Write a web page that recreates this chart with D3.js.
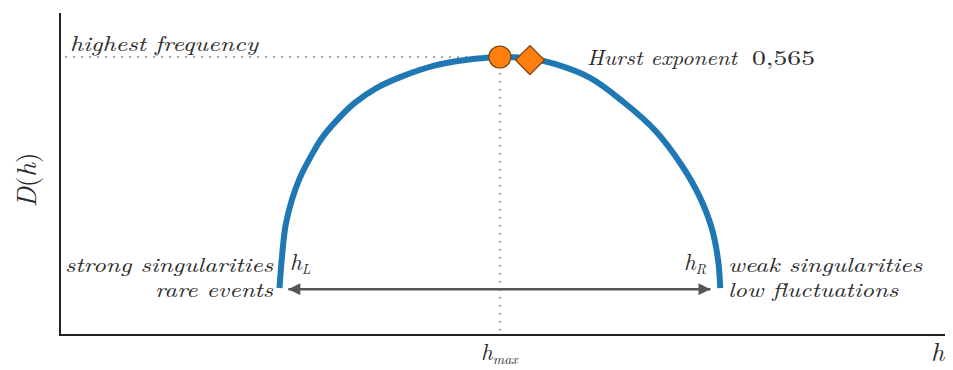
<!DOCTYPE html>
<html>
<head>
<meta charset="utf-8">
<script src="https://cdn.jsdelivr.net/npm/d3@7"></script>
<style>
  html, body { margin: 0; padding: 0; background: #fff; }
  svg { display: block; }
</style>
</head>
<body>
<svg id="chart" width="953" height="370"></svg>
<script>
// Multifractal spectrum D(h)
const hValues = [0.248, 0.251, 0.255, 0.262, 0.271, 0.283, 0.296, 0.313, 0.333, 0.358, 0.388, 0.422, 0.458, 0.497,
                 0.531, 0.559, 0.599, 0.636, 0.673, 0.703, 0.723, 0.737, 0.744, 0.746];
const dValues = [0.169, 0.288, 0.396, 0.486, 0.565, 0.640, 0.709, 0.773, 0.835, 0.889, 0.932, 0.968, 0.989, 1.000,
                 0.995, 0.975, 0.925, 0.840, 0.734, 0.608, 0.496, 0.378, 0.259, 0.169];

const hMax = 0.497;          // peak of the spectrum
const dMax = 1.0;
const hurstPoint = [0.531, 0.989];
const hurstLabel = '0,565';
const hLeft = 0.258;         // arrow ends
const hRight = 0.735;
const arrowD = 0.165;

const FONT = '"Latin Modern Roman", "CMU Serif", "Liberation Serif", serif';
const INK = '#2b2b2b';

const svg = d3.select('#chart');

// Scales
const x = d3.scaleLinear().domain([0, 1]).range([60, 945]);
const y = d3.scaleLinear().domain([0, 1]).range([335, 57]);

// Axes (plain lines, no ticks)
svg.append('line')
  .attr('x1', x(0)).attr('x2', x(0))
  .attr('y1', y(1.158)).attr('y2', y(0) + 1)
  .attr('stroke', '#222').attr('stroke-width', 2);
svg.append('line')
  .attr('x1', x(0)).attr('x2', x(1))
  .attr('y1', y(0)).attr('y2', y(0))
  .attr('stroke', '#222').attr('stroke-width', 2);

// Dotted guides to the peak
svg.append('line')
  .attr('x1', x(0.006)).attr('x2', x(hMax))
  .attr('y1', y(dMax)).attr('y2', y(dMax))
  .attr('stroke', '#8a8a8a').attr('stroke-width', 2)
  .attr('stroke-dasharray', '1.5,6.5');
svg.append('line')
  .attr('x1', x(hMax)).attr('x2', x(hMax))
  .attr('y1', y(dMax)).attr('y2', y(0) - 3)
  .attr('stroke', '#8a8a8a').attr('stroke-width', 2)
  .attr('stroke-dasharray', '1.5,6.5');

// Arrow between h_L and h_R
const defs = svg.append('defs');
['start', 'end'].forEach(k => {
  defs.append('marker')
    .attr('id', 'arrow-' + k)
    .attr('viewBox', '0 0 10 10')
    .attr('refX', k === 'end' ? 10 : 0).attr('refY', 5)
    .attr('markerUnits', 'userSpaceOnUse')
    .attr('markerWidth', 26).attr('markerHeight', 12)
    .attr('orient', 'auto')
    .append('path')
    .attr('d', k === 'end' ? 'M0,0 L10,5 L0,10 Z' : 'M10,0 L0,5 L10,10 Z')
    .attr('fill', '#555');
});
svg.append('line')
  .attr('x1', x(hLeft)).attr('x2', x(hRight))
  .attr('y1', y(arrowD)).attr('y2', y(arrowD))
  .attr('stroke', '#555').attr('stroke-width', 2.5)
  .attr('marker-start', 'url(#arrow-start)')
  .attr('marker-end', 'url(#arrow-end)');

// Spectrum curve
const line = d3.line()
  .x(d => x(d[0]))
  .y(d => y(d[1]))
  .curve(d3.curveCatmullRom.alpha(0.5));

svg.append('path')
  .datum(d3.zip(hValues, dValues))
  .attr('d', line)
  .attr('fill', 'none')
  .attr('stroke', '#1f77b4')
  .attr('stroke-width', 6);

// Markers
svg.append('circle')
  .attr('cx', x(hMax)).attr('cy', y(dMax))
  .attr('r', 11)
  .attr('fill', '#ff7f0e')
  .attr('stroke', '#7a4210').attr('stroke-width', 1.2);

svg.append('path')
  .attr('d', d3.symbol().type(d3.symbolSquare).size(420)())
  .attr('transform', `translate(${x(hurstPoint[0])},${y(hurstPoint[1])}) rotate(45)`)
  .attr('fill', '#ff7f0e')
  .attr('stroke', '#7a4210').attr('stroke-width', 1.2);

// Texts
function label(txt, px, py, opts = {}) {
  const t = svg.append('text')
    .attr('x', px).attr('y', py)
    .attr('text-anchor', opts.anchor || 'start')
    .style('font-family', FONT)
    .style('font-style', opts.upright ? 'normal' : 'italic')
    .style('font-size', (opts.size || 20) + 'px')
    .style('fill', INK)
    .text(txt);
  if (opts.len) t.attr('textLength', opts.len).attr('lengthAdjust', 'spacingAndGlyphs');
  return t;
}

label('highest frequency', 70, 51, { len: 188, size: 21 });
label('Hurst exponent', 587, 65, { len: 150, size: 21 });
label(hurstLabel, 752, 65, { len: 63, upright: true, size: 21 });

label('strong singularities', 273, 272, { anchor: 'end', len: 208 });
label('rare events', 273, 297, { anchor: 'end', len: 118 });
label('weak singularities', 728, 272, { len: 194 });
label('low fluctuations', 728, 297, { len: 170 });

// h_L, h_R, h_max
function hSub(sub, px, py) {
  const t = svg.append('text')
    .attr('x', px).attr('y', py)
    .style('font-family', FONT).style('font-style', 'italic')
    .style('font-size', '23px').style('fill', INK);
  t.append('tspan').text('h');
  t.append('tspan').style('font-size', '14px').attr('dy', 4).text(sub);
}
hSub('L', 290, 270);
hSub('R', 684, 270);
hSub('max', 481, 360);

// Axis labels
label('h', 931, 361, { size: 26 });

const yl = svg.append('text')
  .attr('transform', 'translate(36,180) rotate(-90)')
  .attr('text-anchor', 'middle')
  .style('font-family', FONT)
  .style('font-size', '27px').style('fill', INK);
yl.append('tspan').style('font-style', 'italic').text('D');
yl.append('tspan').text('(');
yl.append('tspan').style('font-style', 'italic').text('h');
yl.append('tspan').text(')');
</script>
</body>
</html>
